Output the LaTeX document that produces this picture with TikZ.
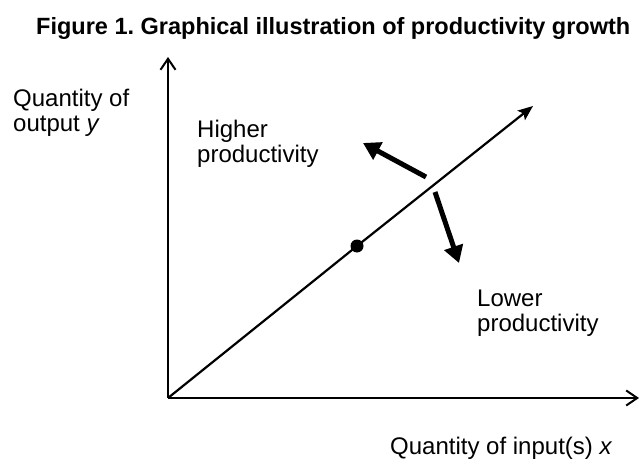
\documentclass[tikz,border=0pt]{standalone}
\usepackage{fontspec}
\setmainfont{Liberation Sans}
\usetikzlibrary{arrows.meta}
\frenchspacing

\tikzset{
  lbl/.style={anchor=base west, inner sep=0pt, align=left},
  movearrow/.style={line width=5pt, -{Triangle[length=17pt,width=19pt]}},
  axis/.style={line width=2pt, ->}
}

\begin{document}
\begin{tikzpicture}[x=1pt, y=-1pt, line join=round, >={Straight Barb[length=11pt,width=15pt]},
    font=\fontsize{24}{25}\selectfont]
  \useasboundingbox (0,0) rectangle (640,468);

  % heading
  \node[lbl, font=\fontsize{23.5}{25}\selectfont\bfseries] (title) at (36,35)
    {Figure 1. Graphical illustration of productivity growth};

  % axes (labels sit on the baseline of their last line)
  \coordinate (O) at (168,398);
  \coordinate (ytop) at (168,57);
  \coordinate (xend) at (639,398);
  \draw[axis] (O) -- (ytop);
  \draw[axis] (O) -- (xend);
  \node[lbl] (ylab) at (13,132) {Quantity of\\output \textit{y}};
  \node[lbl] (xlab) at (390,454) {Quantity of input(s) \textit{x}};

  % productivity line with the observed point
  \coordinate (Q) at (533,106);
  \node[circle, fill, inner sep=0pt, minimum size=13pt] (P) at (357,246) {};
  \draw[line width=2.2pt, -{Stealth[length=15pt,width=12pt,inset=3pt]}] (O) -- (P.center) -- (Q);

  % moving off the line
  \coordinate (h0) at (426,177);
  \coordinate (h1) at (363,143);
  \coordinate (l0) at (435,192);
  \coordinate (l1) at (459,263);
  \draw[movearrow] (h0) -- (h1);
  \draw[movearrow] (l0) -- (l1);
  \node[lbl] (higher) at (197,163) {Higher\\productivity};
  \node[lbl] (lower) at (477,331) {Lower\\productivity};
\end{tikzpicture}
\end{document}
